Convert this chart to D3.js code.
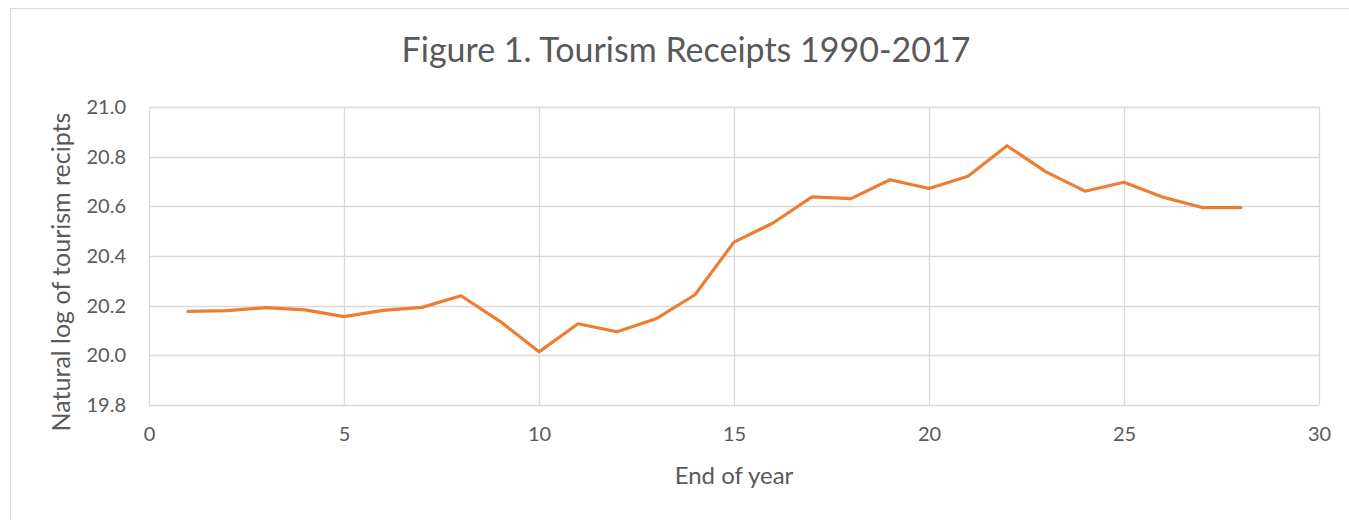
<!DOCTYPE html>
<html>
<head>
<meta charset="utf-8">
<script src="https://cdn.jsdelivr.net/npm/d3@7"></script>
<style>
  body { margin: 0; background: #fff; }
  text { font-family: Lato, "Open Sans", sans-serif; fill: #595959; }
</style>
</head>
<body>
<div id="chart"></div>
<script>
var years = [1, 2, 3, 4, 5, 6, 7, 8, 9, 10, 11, 12, 13, 14, 15, 16, 17, 18, 19, 20, 21, 22, 23, 24, 25, 26, 27, 28];
var logReceipts = [20.177, 20.180, 20.192, 20.183, 20.156, 20.181, 20.193, 20.240, 20.137, 20.014,
    20.127, 20.095, 20.147, 20.244, 20.456, 20.533, 20.638, 20.631, 20.707, 20.672,
    20.721, 20.844, 20.739, 20.661, 20.697, 20.637, 20.595, 20.595];
var xTicks = [0, 5, 10, 15, 20, 25, 30];
var yTicks = [19.8, 20.0, 20.2, 20.4, 20.6, 20.8, 21.0];

var svg = d3.select("#chart")
    .append("svg")
    .attr("width", 1349)
    .attr("height", 520);

// chart frame
svg.append("rect")
    .attr("x", 10.5)
    .attr("y", 8.5)
    .attr("width", 1345)
    .attr("height", 520)
    .attr("fill", "none")
    .attr("stroke", "#d9d9d9");

var plotLeft = 149, plotTop = 107, width = 1170, height = 298;

var charts = svg.append("g")
    .attr("transform", `translate(${plotLeft}, ${plotTop})`);

var xScale = d3.scaleLinear().domain([0, 30]).range([0, width]);
var yScale = d3.scaleLinear().domain([19.8, 21.0]).range([height, 0]);

// gridlines
charts.append("g")
    .selectAll("line")
    .data(yTicks)
    .enter()
    .append("line")
    .attr("x1", 0)
    .attr("x2", width)
    .attr("y1", d => Math.round(yScale(d)) + 0.5)
    .attr("y2", d => Math.round(yScale(d)) + 0.5)
    .attr("stroke", "#d9d9d9")
    .attr("stroke-width", 1.3);

charts.append("g")
    .selectAll("line")
    .data(xTicks)
    .enter()
    .append("line")
    .attr("x1", d => Math.round(xScale(d)) + 0.5)
    .attr("x2", d => Math.round(xScale(d)) + 0.5)
    .attr("y1", 0)
    .attr("y2", height)
    .attr("stroke", "#d9d9d9")
    .attr("stroke-width", 1.3);

// axes (labels only)
var bottomAxis = d3.axisBottom(xScale).tickValues(xTicks).tickSize(0).tickPadding(22);
var leftAxis = d3.axisLeft(yScale).tickValues(yTicks).tickSize(0).tickPadding(23).tickFormat(d3.format(".1f"));

var xAxis = charts.append("g")
    .attr("transform", `translate(0, ${height})`)
    .call(bottomAxis);
var yAxis = charts.append("g").call(leftAxis);

[xAxis, yAxis].forEach(function (ax) {
    ax.select(".domain").remove();
    ax.selectAll("text")
        .attr("font-size", "20px")
        .attr("fill", "#595959")
        .style("font-family", "Lato, 'Open Sans', sans-serif");
});

// line
var line = d3.line()
    .x((d, i) => xScale(years[i]))
    .y(d => yScale(d));

charts.append("path")
    .datum(logReceipts)
    .attr("d", line)
    .attr("fill", "none")
    .attr("stroke", "#ed7d31")
    .attr("stroke-width", 3.2)
    .attr("stroke-linejoin", "round")
    .attr("stroke-linecap", "round");

// titles
svg.append("text")
    .attr("x", 686)
    .attr("y", 62)
    .attr("text-anchor", "middle")
    .attr("font-size", "34px")
    .text("Figure 1. Tourism Receipts 1990-2017");

svg.append("text")
    .attr("x", 734)
    .attr("y", 484)
    .attr("text-anchor", "middle")
    .attr("font-size", "24px")
    .text("End of year");

svg.append("text")
    .attr("transform", "translate(70, 272) rotate(-90)")
    .attr("text-anchor", "middle")
    .attr("font-size", "25px")
    .text("Natural log of tourism recipts");
</script>
</body>
</html>
